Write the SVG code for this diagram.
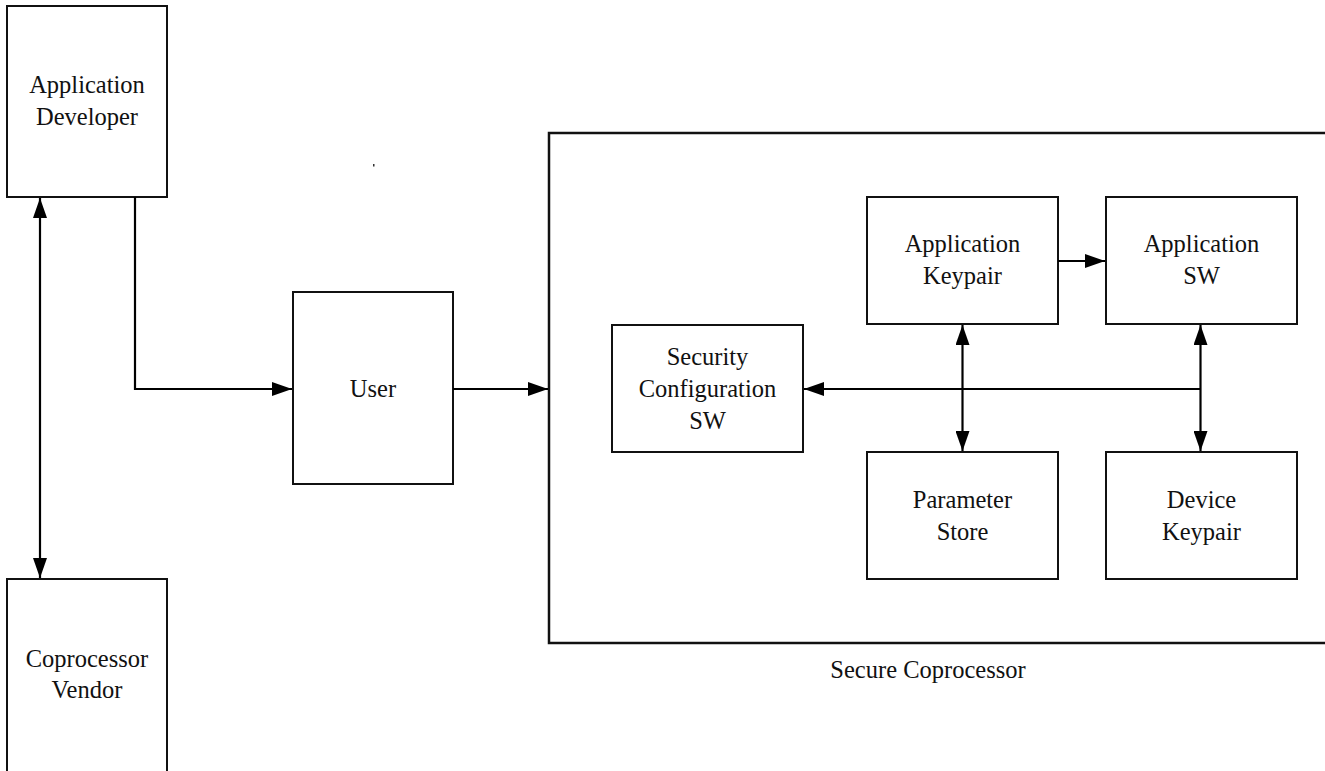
<svg xmlns="http://www.w3.org/2000/svg" width="1325" height="771" viewBox="0 0 1325 771">
  <style>
    .box { fill: #fff; stroke: #111; stroke-width: 2; }
    .frame { fill: none; stroke: #111; stroke-width: 2.5; }
    .wire { fill: none; stroke: #000; stroke-width: 2.2; }
    .lbl { font-size: 24.5px; fill: #111; text-anchor: middle; }
  </style>
  <defs>
    <marker id="head" viewBox="0 0 20 14" refX="20" refY="7" markerWidth="20" markerHeight="14" markerUnits="userSpaceOnUse" orient="auto-start-reverse">
      <path d="M0,0 L20,7 L0,14 Z" fill="#000"/>
    </marker>
  </defs>

  <rect width="1325" height="771" fill="#fff"/>

  <g font-family="'Liberation Serif', 'Times New Roman', 'DejaVu Serif', serif">
  <!-- enclosing coprocessor boundary -->
  <g id="secure-coprocessor">
    <rect class="frame" x="549" y="133" width="800" height="510"/>
    <text class="lbl" x="928" y="678">Secure Coprocessor</text>
  </g>

  <g id="application-developer">
    <rect class="box" x="7" y="6" width="160" height="191"/>
    <text class="lbl" x="87" y="93">Application</text>
    <text class="lbl" x="87" y="125">Developer</text>
  </g>

  <g id="coprocessor-vendor">
    <rect class="box" x="7" y="579" width="160" height="193"/>
    <text class="lbl" x="87" y="667">Coprocessor</text>
    <text class="lbl" x="87" y="698">Vendor</text>
  </g>

  <g id="user">
    <rect class="box" x="293" y="292" width="160" height="192"/>
    <text class="lbl" x="373" y="397">User</text>
  </g>

  <g id="security-configuration-sw">
    <rect class="box" x="612" y="325" width="191" height="127"/>
    <text class="lbl" x="707.5" y="365">Security</text>
    <text class="lbl" x="707.5" y="397">Configuration</text>
    <text class="lbl" x="707.5" y="429">SW</text>
  </g>

  <g id="application-keypair">
    <rect class="box" x="867" y="197" width="191" height="127"/>
    <text class="lbl" x="962.5" y="252">Application</text>
    <text class="lbl" x="962.5" y="284">Keypair</text>
  </g>

  <g id="application-sw">
    <rect class="box" x="1106" y="197" width="191" height="127"/>
    <text class="lbl" x="1201.5" y="252">Application</text>
    <text class="lbl" x="1201.5" y="284">SW</text>
  </g>

  <g id="parameter-store">
    <rect class="box" x="867" y="452" width="191" height="127"/>
    <text class="lbl" x="962.5" y="508">Parameter</text>
    <text class="lbl" x="962.5" y="540">Store</text>
  </g>

  <g id="device-keypair">
    <rect class="box" x="1106" y="452" width="191" height="127"/>
    <text class="lbl" x="1201.5" y="508">Device</text>
    <text class="lbl" x="1201.5" y="540">Keypair</text>
  </g>
  </g>

  <g id="connectors">
    <!-- developer <-> vendor -->
    <line class="wire" x1="40" y1="198" x2="40" y2="578" marker-start="url(#head)" marker-end="url(#head)"/>
    <!-- developer -> user -->
    <polyline class="wire" points="135,197 135,389 292,389" marker-end="url(#head)"/>
    <!-- user -> coprocessor -->
    <line class="wire" x1="453" y1="389" x2="548" y2="389" marker-end="url(#head)"/>
    <!-- application keypair -> application sw -->
    <line class="wire" x1="1058" y1="261" x2="1105" y2="261" marker-end="url(#head)"/>
    <!-- application keypair <-> parameter store -->
    <line class="wire" x1="962.5" y1="325" x2="962.5" y2="451" marker-start="url(#head)" marker-end="url(#head)"/>
    <!-- application sw <-> device keypair -->
    <line class="wire" x1="1200.5" y1="325" x2="1200.5" y2="451" marker-start="url(#head)" marker-end="url(#head)"/>
    <!-- bus -> security configuration sw -->
    <line class="wire" x1="1200.5" y1="389" x2="804" y2="389" marker-end="url(#head)"/>
  </g>

  <!-- stray speck -->
  <rect x="373" y="164" width="1.5" height="2.5" fill="#333"/>
</svg>
